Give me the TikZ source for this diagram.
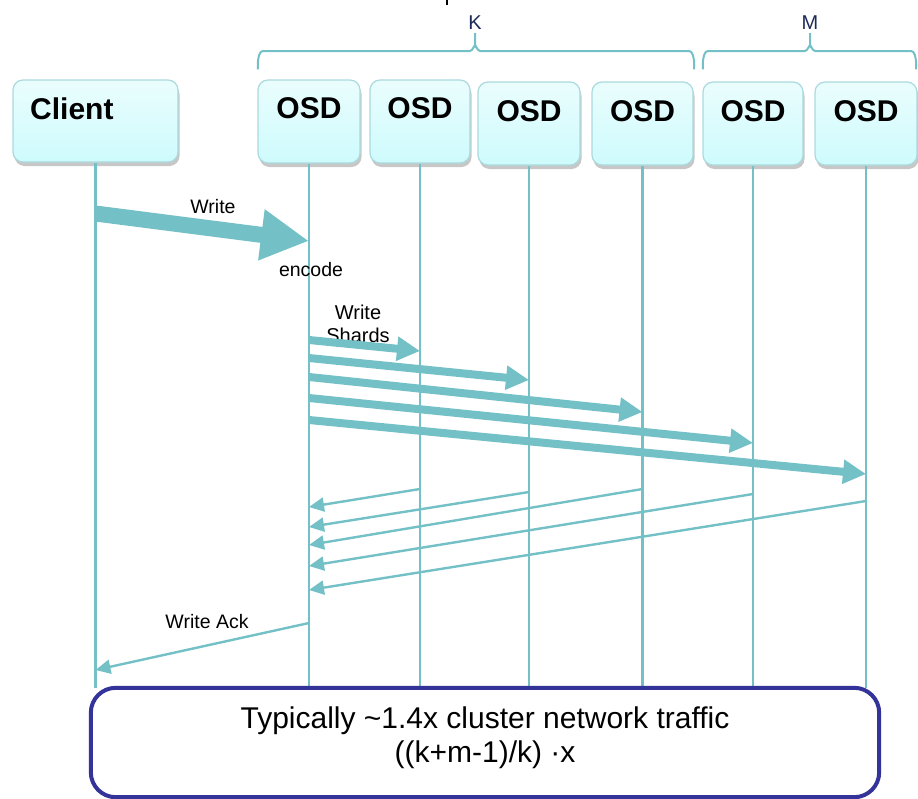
\documentclass[tikz,border=0pt]{standalone}
\usepackage{fontspec}
\setmainfont{Liberation Sans}
\usetikzlibrary{arrows.meta,shadows}
\definecolor{tealln}{RGB}{115,192,198}
\definecolor{boxedge}{RGB}{170,218,222}
\definecolor{boxtop}{RGB}{234,253,253}
\definecolor{boxbot}{RGB}{206,251,253}
\definecolor{navytxt}{RGB}{28,42,90}
\definecolor{notebd}{RGB}{51,51,153}
\begin{document}
\begin{tikzpicture}[x=1pt,y=-1pt,
  box/.style={draw=boxedge, line width=1.2pt, rounded corners=10pt,
    top color=boxtop, bottom color=boxbot, inner sep=0pt,
    drop shadow={shadow xshift=1.5pt, shadow yshift=-4pt, opacity=0.22, fill=black}},
  osdbox/.style={box, minimum width=102pt, minimum height=83pt},
  boxtxt/.style={font=\fontsize{30}{35}\selectfont\bfseries, inner sep=0pt},
  life/.style={draw=tealln, line width=2.5pt},
  fat/.style={draw=tealln, line width=16pt, -{Triangle[length=48pt,width=48pt]}},
  shard/.style={draw=tealln, line width=8pt, -{Triangle[length=23pt,width=23pt]}},
  ack/.style={draw=tealln, line width=2.4pt, -{Triangle[length=15pt,width=14pt]}},
  lbl/.style={font=\fontsize{19.5}{23}\selectfont, inner sep=0pt, align=center},
  bracestyle/.style={draw=tealln, line width=2pt},
  brlbl/.style={font=\fontsize{20}{24}\selectfont, text=navytxt, inner sep=0pt}]
\useasboundingbox (0,0) rectangle (918,798);

% cut-off glyph at the top edge
\draw[black, line width=2pt] (447,0) -- (447,4.5);

% braces
\draw[bracestyle] (258,68) to[out=-90,in=180] (263,51) -- (470,51) to[out=0,in=90] (475,46) -- (475,33);
\draw[bracestyle] (694,68) to[out=-90,in=0] (689,51) -- (480,51) to[out=180,in=90] (475,46);
\draw[bracestyle] (703,68) to[out=-90,in=180] (708,51) -- (805,51) to[out=0,in=90] (810,46) -- (810,33);
\draw[bracestyle] (916,68) to[out=-90,in=0] (911,51) -- (815,51) to[out=180,in=90] (810,46);
\node[brlbl] (klbl) at (475,23) {K};
\node[brlbl] (mlbl) at (810,23) {M};

% boxes
\node[box, minimum width=165pt, minimum height=82pt] (client) at (95.5,121) {};
\node[osdbox] (osd1) at (309,121.5) {};
\node[osdbox, minimum width=100pt] (osd2) at (420,121.5) {};
\node[osdbox] (osd3) at (529,123.5) {};
\node[osdbox, minimum width=101pt] (osd4) at (642.5,123.5) {};
\node[osdbox, minimum width=100pt] (osd5) at (753,123.5) {};
\node[osdbox] (osd6) at (866,123.5) {};

\node[boxtxt, anchor=west] (clienttxt) at (30,109) {Client};
\node[boxtxt] (t1) at (309,108) {OSD};
\node[boxtxt] (t2) at (420,108) {OSD};
\node[boxtxt] (t3) at (529,111) {OSD};
\node[boxtxt] (t4) at (642.5,111) {OSD};
\node[boxtxt] (t5) at (753,111) {OSD};
\node[boxtxt] (t6) at (866,111) {OSD};

% bottom note area (named first so lifelines can end at it)
\path (485,742.5) node[minimum width=788pt, minimum height=109pt, inner sep=0pt] (notearea) {};

% lifelines
\foreach \n in {client,osd1,osd2,osd3,osd4,osd5,osd6}{
  \draw[life] (\n.south) -- (\n.south |- notearea.north);
}

% write
\coordinate (w0) at (client.south |- 0,213.5);
\coordinate (w1) at (osd1.south |- 0,241);
\draw[fat, line cap=butt] (w0) -- (w1);
\node[lbl] (writelbl) at (213,207) {Write};
\node[lbl] (encodelbl) at (311,270) {encode};

% write shards
\node[lbl, font=\fontsize{20}{23}\selectfont] (shardlbl) at (358,323.5) {Write\\Shards};
\coordinate (s1a) at (osd1.south |- 0,340);
\coordinate (s1b) at (osd2.south |- 0,351);
\coordinate (s2a) at (osd1.south |- 0,358);
\coordinate (s2b) at (osd3.south |- 0,380);
\coordinate (s3a) at (osd1.south |- 0,377);
\coordinate (s3b) at (osd4.south |- 0,412);
\coordinate (s4a) at (osd1.south |- 0,398);
\coordinate (s4b) at (osd5.south |- 0,443);
\coordinate (s5a) at (osd1.south |- 0,420);
\coordinate (s5b) at (osd6.south |- 0,474);
\draw[shard] (s1a) -- (s1b);
\draw[shard] (s2a) -- (s2b);
\draw[shard] (s3a) -- (s3b);
\draw[shard] (s4a) -- (s4b);
\draw[shard] (s5a) -- (s5b);

% acks
\coordinate (a1a) at (osd2.south |- 0,489);
\coordinate (a1b) at (osd1.south |- 0,507);
\coordinate (a2a) at (osd3.south |- 0,492);
\coordinate (a2b) at (osd1.south |- 0,527);
\coordinate (a3a) at (osd4.south |- 0,489);
\coordinate (a3b) at (osd1.south |- 0,545);
\coordinate (a4a) at (osd5.south |- 0,494);
\coordinate (a4b) at (osd1.south |- 0,566);
\coordinate (a5a) at (osd6.south |- 0,501);
\coordinate (a5b) at (osd1.south |- 0,590);
\draw[ack] (a1a) -- (a1b);
\draw[ack] (a2a) -- (a2b);
\draw[ack] (a3a) -- (a3b);
\draw[ack] (a4a) -- (a4b);
\draw[ack] (a5a) -- (a5b);

% write ack
\coordinate (wa0) at (osd1.south |- 0,623);
\coordinate (wa1) at (client.south |- 0,670);
\draw[ack] (wa0) -- (wa1);
\node[lbl] (acklbl) at (207,622) {Write Ack};

% note box
\draw[draw=notebd, fill=white, line width=4pt, rounded corners=25pt]
  (notearea.north west) rectangle (notearea.south east);
\node[font=\fontsize{30}{34}\selectfont, align=center, inner sep=0pt] (notetxt) at (485,738)
  {Typically \textasciitilde1.4x cluster network traffic\\((k+m-1)/k) ·x};
\end{tikzpicture}
\end{document}
